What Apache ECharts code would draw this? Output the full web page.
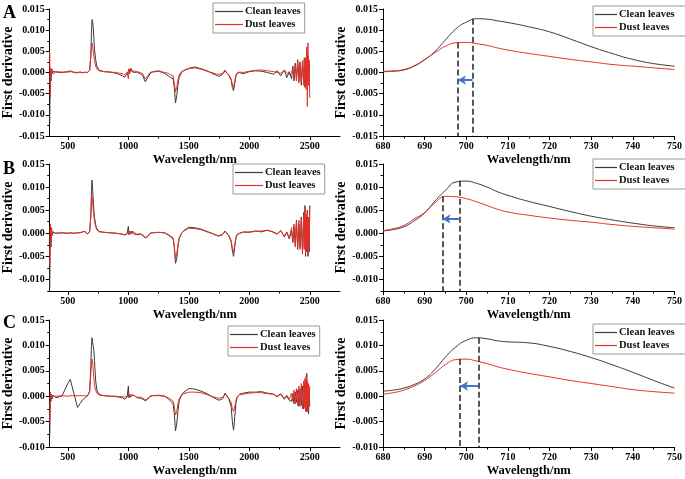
<!DOCTYPE html>
<html><head><meta charset="utf-8">
<script src="https://cdn.jsdelivr.net/npm/echarts@6/dist/echarts.min.js"></script>
<style>html,body{margin:0;padding:0;background:#fff}#c{width:685px;height:479px}</style>
</head><body><div id="c"></div>
<script>
// ---- full-spectrum wavelengths (nm) ----
const wlFull = [
  350, 355, 360, 365, 370, 380, 400, 450, 500, 520,
  550, 580, 600, 620, 640, 660, 670, 680, 690, 695,
  700, 705, 710, 715, 720, 730, 740, 760, 800, 850,
  900, 930, 950, 970, 990, 1000, 1005, 1010, 1020, 1030,
  1040, 1050, 1070, 1100, 1120, 1140, 1150, 1160, 1180, 1200,
  1250, 1300, 1330, 1350, 1370, 1380, 1390, 1400, 1410, 1420,
  1440, 1460, 1500, 1550, 1600, 1650, 1700, 1730, 1750, 1780,
  1800, 1810, 1830, 1850, 1860, 1870, 1880, 1890, 1900, 1920,
  1950, 2000, 2050, 2100, 2150, 2200, 2230, 2260, 2290, 2310,
  2330, 2350, 2360, 2370, 2380, 2390, 2400, 2410, 2420, 2430,
  2440, 2450, 2455, 2460, 2465, 2470, 2475, 2480, 2485, 2490,
  2495, 2500
];
const cleanA = [
  -0.012, 0.001, -0.002, 0.0005, -0.0002, 0.0003, 0.0001, 0.0, 0.0002, 0.0004,
  0.0, -0.0001, 0.0001, -0.0001, 0.0001, 0.0, 0.0002, 0.0005, 0.004, 0.0095,
  0.0125, 0.012, 0.0105, 0.008, 0.0055, 0.003, 0.0015, 0.0005, 0.0002, 0.0001,
  -0.0002, -0.0005, -0.0008, -0.0011, -0.0002, 0.0003, 0.0008, -0.0003, 0.0009, 0.0002,
  0.0006, 0.0, 0.0001, -0.0003, -0.0008, -0.0022, -0.0025, -0.0012, -0.0002, 0.0001,
  0.0003, -0.0002, -0.0008, -0.0012, -0.0015, -0.0035, -0.0072, -0.0055, -0.003, -0.0012,
  0.0, 0.0005, 0.001, 0.0013, 0.0009, 0.0004, -0.0003, -0.0007, -0.0009, -0.0004,
  0.0004, 0.0001, -0.0006, -0.0018, -0.0035, -0.0043, -0.0025, -0.0008, -0.0002, 0.0,
  -0.0003, 0.0002, 0.0004, 0.0003, 0.0, -0.0004, 0.0004, -0.0008, 0.0006, -0.0012,
  0.0002, -0.0015, 0.0015, -0.002, 0.0022, -0.0015, 0.003, -0.002, 0.0025, -0.003,
  0.0018, -0.0025, 0.003, -0.0035, 0.0025, -0.003, 0.005, -0.002, 0.004, -0.003,
  0.002, 0.0015
];
const dustA = [
  0.005, -0.006, 0.001, -0.0005, 0.0008, -0.0003, 0.0002, 0.0001, 0.0001, 0.0002,
  0.0001, 0.0, 0.0001, 0.0, 0.0, 0.0, 0.0002, 0.0005, 0.004, 0.006,
  0.007, 0.0062, 0.005, 0.0038, 0.0028, 0.0015, 0.0008, 0.0004, 0.0002, 0.0001,
  0.0, -0.0002, -0.0003, -0.0005, 0.0, -0.0015, 0.0009, 0.0, 0.001, 0.0004,
  0.0007, 0.0003, 0.0002, 0.0, -0.0003, -0.0015, -0.0017, -0.0008, 0.0, 0.0002,
  0.0004, 0.0, -0.0002, -0.0006, -0.0008, -0.0025, -0.0045, -0.0035, -0.0018, -0.0006,
  0.0002, 0.0005, 0.0009, 0.0011, 0.0008, 0.0003, -0.0001, -0.0004, -0.0004, -0.0002,
  0.0006, 0.0, -0.0005, -0.0015, -0.0028, -0.0035, -0.002, -0.0006, -0.0001, 0.0001,
  0.0, 0.0003, 0.0005, 0.0006, 0.0004, 0.0002, 0.0, -0.0002, 0.0005, 0.0,
  -0.0006, 0.0, 0.001, -0.0012, 0.0018, -0.002, 0.0025, -0.0025, 0.0022, -0.002,
  0.0028, -0.003, 0.0035, -0.003, 0.0035, -0.004, 0.006, -0.008, 0.007, -0.003,
  0.003, -0.006
];
const cleanB = [
  -0.012, 0.001, -0.003, 0.0012, -0.0005, 0.0003, 0.0, 0.0001, 0.0, 0.0001,
  0.0, 0.0001, 0.0001, 0.0003, 0.0004, -0.0001, -0.0003, 0.0003, 0.004, 0.009,
  0.0115, 0.0095, 0.007, 0.005, 0.0035, 0.0018, 0.0009, 0.0004, 0.0002, 0.0001,
  0.0, -0.0001, -0.0002, -0.0004, -0.0001, 0.0015, -0.0003, 0.0004, -0.0002, 0.0005,
  -0.0001, 0.0002, -0.0003, -0.0002, -0.0005, -0.001, -0.0013, -0.0007, 0.0, 0.0001,
  0.0002, 0.0001, -0.0004, -0.0008, -0.0012, -0.003, -0.0065, -0.0055, -0.003, -0.0012,
  0.0, 0.0006, 0.0013, 0.0012, 0.0009, 0.0004, -0.0001, -0.0005, -0.0006, -0.0003,
  0.0005, 0.0002, -0.0005, -0.0018, -0.0038, -0.005, -0.003, -0.001, -0.0003, 0.0,
  0.0003, 0.0002, 0.0005, 0.0003, 0.0007, 0.0002, -0.0002, 0.0006, -0.0008, 0.0002,
  -0.0012, 0.0005, -0.002, 0.0015, -0.0025, 0.0028, -0.0035, 0.002, -0.003, 0.0035,
  -0.004, 0.0045, -0.003, 0.006, -0.005, 0.0035, -0.004, 0.005, -0.005, 0.003,
  -0.004, 0.006
];
const dustB = [
  -0.007, 0.002, -0.002, 0.001, -0.0003, 0.0002, 0.0, 0.0001, 0.0, 0.0001,
  0.0, 0.0001, 0.0001, 0.0003, 0.0004, -0.0001, -0.0002, 0.0003, 0.0035, 0.007,
  0.008, 0.0068, 0.005, 0.0038, 0.0026, 0.0014, 0.0007, 0.0003, 0.0002, 0.0001,
  0.0, -0.0001, -0.0002, -0.0003, 0.0, 0.0005, -0.0002, 0.0003, -0.0001, 0.0004,
  0.0, 0.0002, -0.0002, -0.0001, -0.0004, -0.0009, -0.0012, -0.0006, 0.0, 0.0001,
  0.0002, 0.0001, -0.0003, -0.0006, -0.001, -0.0028, -0.0055, -0.0045, -0.0025, -0.001,
  0.0, 0.0005, 0.0011, 0.001, 0.0008, 0.0003, -0.0001, -0.0004, -0.0005, -0.0002,
  0.0004, 0.0001, -0.0005, -0.0015, -0.0032, -0.004, -0.0025, -0.0008, -0.0002, 0.0,
  0.0002, 0.0003, 0.0004, 0.0005, 0.0006, 0.0003, -0.0001, 0.0005, -0.0006, 0.0003,
  -0.001, 0.0012, -0.0018, 0.002, -0.003, 0.0025, -0.003, 0.0028, -0.0035, 0.003,
  -0.0045, 0.004, -0.0035, 0.0055, -0.0045, 0.004, -0.0035, 0.0045, -0.0048, 0.0035,
  -0.003, 0.006
];
const cleanC = [
  -0.008, 0.0005, -0.001, 0.0003, -0.0005, 0.0002, -0.0003, 0.0, 0.0025, 0.0033,
  0.0005, -0.0022, -0.0015, -0.0008, -0.0003, 0.0, 0.0003, 0.001, 0.006, 0.01,
  0.0115, 0.0105, 0.0098, 0.009, 0.007, 0.003, 0.0012, 0.0003, 0.0001, 0.0,
  -0.0001, -0.0002, -0.0003, -0.0006, -0.0002, 0.002, -0.0003, 0.0003, -0.0002, 0.0003,
  0.0, 0.0001, -0.0003, -0.0004, -0.0006, -0.0009, -0.001, -0.0006, 0.0, 0.0001,
  0.0002, 0.0, -0.0005, -0.001, -0.0015, -0.0035, -0.0068, -0.0055, -0.003, -0.001,
  0.0003, 0.0008, 0.0015, 0.0014, 0.001, 0.0005, -0.0002, -0.0006, -0.0008, -0.0005,
  0.0006, 0.0003, -0.0005, -0.002, -0.005, -0.0067, -0.004, -0.0012, -0.0002, 0.0004,
  0.0006, 0.0008, 0.0008, 0.0009, 0.0006, 0.0004, -0.0001, 0.0004, -0.0006, 0.0,
  -0.0008, -0.001, 0.0005, -0.0015, 0.0008, -0.0012, 0.0012, -0.002, 0.0015, -0.0018,
  0.002, -0.0025, 0.0025, -0.002, 0.003, -0.003, 0.0045, -0.003, 0.002, -0.0035,
  0.0015, -0.002
];
const dustC = [
  -0.005, 0.0008, -0.0005, 0.0004, 0.0, 0.0002, 0.0, 0.0001, 0.0, 0.0001,
  0.0001, 0.0001, 0.0001, 0.0001, 0.0001, 0.0, 0.0002, 0.0008, 0.0045, 0.0068,
  0.0073, 0.0065, 0.005, 0.0035, 0.0022, 0.0012, 0.0006, 0.0002, 0.0001, 0.0,
  0.0, -0.0001, -0.0001, -0.0002, 0.0, 0.0004, -0.0002, 0.0003, 0.0, 0.0002,
  0.0, 0.0001, -0.0002, -0.0002, -0.0004, -0.0007, -0.0008, -0.0005, 0.0, 0.0001,
  0.0001, 0.0, -0.0003, -0.0006, -0.001, -0.002, -0.0037, -0.003, -0.0015, -0.0005,
  0.0002, 0.0005, 0.0008, 0.0008, 0.0007, 0.0003, -0.0001, -0.0003, -0.0004, -0.0002,
  0.0004, 0.0001, -0.0004, -0.0012, -0.0025, -0.003, -0.002, -0.0008, -0.0001, 0.0003,
  0.0004, 0.0006, 0.0007, 0.0007, 0.0005, 0.0004, 0.0, 0.0005, -0.0004, 0.0002,
  -0.0006, 0.0006, -0.001, 0.0012, -0.0015, 0.0015, -0.0018, 0.002, -0.002, 0.0025,
  -0.0025, 0.003, -0.0022, 0.0035, -0.003, 0.004, -0.0025, 0.003, -0.003, 0.0025,
  -0.002, 0.002
];

// ---- red-edge zoom (680-750 nm) ----
const wlZoom = [680, 682.5, 685, 687.5, 690, 692.5, 695, 697.5, 700, 702.5, 705, 707.5, 710, 715, 720, 725, 730, 735, 740, 745, 750];
const cleanAz = [0.0002, 0.0003, 0.0006, 0.0015, 0.0030, 0.0050, 0.0077, 0.0103, 0.0119, 0.0127, 0.0126, 0.0122, 0.0118, 0.0108, 0.0096, 0.0079, 0.0061, 0.0045, 0.0031, 0.0021, 0.0015];
const dustAz  = [0.0003, 0.0004, 0.0007, 0.0016, 0.0031, 0.0047, 0.0062, 0.0070, 0.0071, 0.0068, 0.0064, 0.0058, 0.0053, 0.0045, 0.0038, 0.0031, 0.0025, 0.0019, 0.0015, 0.0011, 0.0007];
const cleanBz = [0.0005, 0.0008, 0.0014, 0.0027, 0.0044, 0.0070, 0.0093, 0.0111, 0.0113, 0.0108, 0.0100, 0.0090, 0.0082, 0.0069, 0.0058, 0.0047, 0.0037, 0.0029, 0.0022, 0.0016, 0.0012];
const dustBz  = [0.0006, 0.0010, 0.0017, 0.0031, 0.0045, 0.0066, 0.0080, 0.0079, 0.0075, 0.0068, 0.0060, 0.0052, 0.0046, 0.0039, 0.0033, 0.0028, 0.0024, 0.0019, 0.0015, 0.0012, 0.0009];
const cleanCz = [0.0010, 0.0012, 0.0016, 0.0023, 0.0034, 0.0053, 0.0077, 0.0097, 0.0110, 0.0115, 0.0113, 0.0109, 0.0107, 0.0105, 0.0098, 0.0088, 0.0076, 0.0062, 0.0047, 0.0031, 0.0016];
const dustCz  = [0.0004, 0.0007, 0.0012, 0.0020, 0.0031, 0.0046, 0.0062, 0.0072, 0.0073, 0.0069, 0.0064, 0.0058, 0.0053, 0.0045, 0.0038, 0.0031, 0.0025, 0.0019, 0.0013, 0.0009, 0.0006];

// red-edge peak positions and the arrow height
const peakDust = [698, 694.3, 698.5];
const peakClean = [701.5, 698.5, 703];
const dustPeakVal = [0.0071, 0.0080, 0.0073];
const cleanPeakVal = [0.0127, 0.0114, 0.0115];
const arrowY = [-0.0018, 0.0031, 0.0020];

// ---- ticks ----
const xTicksFull = [500, 1000, 1500, 2000, 2500];
const xMinorFull = [750, 1250, 1750, 2250];
const xTicksZoom = [680, 690, 700, 710, 720, 730, 740, 750];
const xMinorZoom = [685, 695, 705, 715, 725, 735, 745];
const yTicksA = [-0.015, -0.010, -0.005, 0, 0.005, 0.010, 0.015];
const yMinorA = [-0.0125, -0.0075, -0.0025, 0.0025, 0.0075, 0.0125];
const yTicksBC = [-0.010, -0.005, 0, 0.005, 0.010, 0.015];
const yMinorBC = [-0.0125, -0.0075, -0.0025, 0.0025, 0.0075, 0.0125];
const yMinPanel = [-0.015, -0.0125, -0.010];
const panelLetters = ['A', 'B', 'C'];

const FONT = "'Liberation Serif','DejaVu Serif',serif";
const CLEAN_COLOR = '#3a3a3a';
const DUST_COLOR = '#e8302a';

const gridTops = [9, 164, 320];
const gridH = 127;
const grids = [], xAxes = [], yAxes = [], series = [], legends = [];
const legendPos = [
  [[213, 3], [593, 6]],
  [[233, 164], [593, 159]],
  [[228, 326], [593, 324]]
];
const fullClean = [cleanA, cleanB, cleanC], fullDust = [dustA, dustB, dustC];
const zoomClean = [cleanAz, cleanBz, cleanCz], zoomDust = [dustAz, dustBz, dustCz];

function fmt(v) { return (Math.abs(v) < 1e-9 ? 0 : v).toFixed(3); }

for (let r = 0; r < 3; r++) {
  for (let c = 0; c < 2; c++) {
    const gi = grids.length;
    grids.push({ left: c === 0 ? 48 : 383, top: gridTops[r], width: 292, height: gridH });
    const full = c === 0;
    const xmin = full ? 350 : 680, xmax = full ? 2750 : 750;
    const ymin = yMinPanel[r], ymax = 0.015;
    const yT = r === 0 ? yTicksA : yTicksBC;
    const yM = (r === 0 ? yMinorA : yMinorBC).filter(v => v >= ymin - 1e-9);
    const axLine = { show: true, onZero: false, lineStyle: { color: '#000', width: 1 } };
    xAxes.push({
      type: 'value', gridIndex: gi, min: xmin, max: xmax, position: 'bottom',
      axisLine: axLine,
      axisTick: { show: true, customValues: full ? xTicksFull : xTicksZoom, length: 4, lineStyle: { color: '#000' } },
      axisLabel: { customValues: full ? xTicksFull : xTicksZoom, formatter: v => String(v), color: '#000', fontFamily: FONT, fontWeight: 'bold', fontSize: 10, margin: 5 },
      splitLine: { show: false },
      name: 'Wavelength/nm', nameLocation: 'middle', nameGap: 17,
      nameTextStyle: { color: '#000', fontFamily: FONT, fontWeight: 'bold', fontSize: 12.5 }
    });
    xAxes.push({
      type: 'value', gridIndex: gi, min: xmin, max: xmax, position: 'bottom',
      axisLine: { show: false, onZero: false },
      axisTick: { show: true, customValues: full ? xMinorFull : xMinorZoom, length: 2.5, lineStyle: { color: '#000' } },
      axisLabel: { show: false }, splitLine: { show: false }
    });
    yAxes.push({
      type: 'value', gridIndex: gi, min: ymin, max: ymax, position: 'left',
      axisLine: axLine,
      axisTick: { show: true, customValues: yT, length: 4, lineStyle: { color: '#000' } },
      axisLabel: { customValues: yT, formatter: fmt, color: '#000', fontFamily: FONT, fontWeight: 'bold', fontSize: 10, margin: 5 },
      splitLine: { show: false },
      name: 'First derivative', nameLocation: 'middle', nameGap: full ? 29 : 28,
      nameTextStyle: { color: '#000', fontFamily: FONT, fontWeight: 'bold', fontSize: 14 }
    });
    yAxes.push({
      type: 'value', gridIndex: gi, min: ymin, max: ymax, position: 'left',
      axisLine: { show: false, onZero: false },
      axisTick: { show: true, customValues: yM, length: 2.5, lineStyle: { color: '#000' } },
      axisLabel: { show: false }, splitLine: { show: false }
    });
    const wl = full ? wlFull : wlZoom;
    const cArr = full ? fullClean[r] : zoomClean[r];
    const dArr = full ? fullDust[r] : zoomDust[r];
    const base = { type: 'line', xAxisIndex: 2 * gi, yAxisIndex: 2 * gi, symbol: 'none', smooth: !full, animation: false, silent: true };
    series.push(Object.assign({}, base, {
      name: 'Clean leaves', data: wl.map((x, k) => [x, cArr[k]]),
      lineStyle: { color: CLEAN_COLOR, width: 1 }, itemStyle: { color: CLEAN_COLOR }
    }));
    const dSeries = Object.assign({}, base, {
      name: 'Dust leaves', data: wl.map((x, k) => [x, dArr[k]]),
      lineStyle: { color: DUST_COLOR, width: 1 }, itemStyle: { color: DUST_COLOR }
    });
    if (!full) {
      const dash = { color: '#222', type: [6, 3], width: 1.5 };
      const blue = { color: '#4472c4', type: 'solid', width: 2 };
      dSeries.markLine = {
        silent: true, animation: false, symbol: ['none', 'none'], label: { show: false },
        emphasis: { disabled: true },
        data: [
          [{ coord: [peakDust[r], dustPeakVal[r]], lineStyle: dash }, { coord: [peakDust[r], ymin], lineStyle: dash }],
          [{ coord: [peakClean[r], cleanPeakVal[r]], lineStyle: dash }, { coord: [peakClean[r], ymin], lineStyle: dash }],
          [{ coord: [peakClean[r], arrowY[r]], symbol: 'none', lineStyle: blue },
           { coord: [peakDust[r], arrowY[r]], symbol: 'arrow', symbolSize: [7, 8], lineStyle: blue, itemStyle: { color: '#4472c4' } }]
        ]
      };
    }
    series.push(dSeries);
    const lp = legendPos[r][c];
    legends.push({
      left: lp[0], top: lp[1], orient: 'vertical', itemGap: 0,
      icon: 'rect', itemWidth: full ? 28 : 22, itemHeight: 1.2, padding: full ? [2, 4, 2, 2] : [2, 12, 2, 2],
      borderColor: '#999', borderWidth: 1, selectedMode: false,
      data: ['Clean leaves', 'Dust leaves'],
      textStyle: { color: '#111', fontFamily: FONT, fontWeight: 'bold', fontSize: 10.5, lineHeight: 13, padding: [0, 0, 0, -3] }
    });
  }
}

const graphics = panelLetters.map((t, r) => ({
  type: 'text', left: 3, top: [4, 160, 314][r],
  style: { text: t, fill: '#000', font: "bold 18px " + FONT }
}));

const chart = echarts.init(document.getElementById('c'), null, { renderer: 'canvas' });
chart.setOption({
  backgroundColor: '#fff',
  animation: false,
  grid: grids, xAxis: xAxes, yAxis: yAxes, series: series, legend: legends,
  graphic: graphics
});
</script>
</body></html>
